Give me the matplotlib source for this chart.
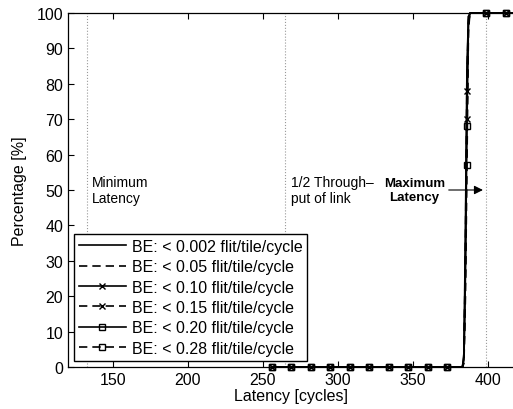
import matplotlib
matplotlib.use('Agg')
from matplotlib import pyplot as plt

plt.rcParams['font.family'] = ['Liberation Sans', 'DejaVu Sans']

# Latency sample points [cycles]
latency = [256, 269, 282, 295, 308, 321, 334, 347, 360, 373,
           383, 384, 385, 386, 387, 388, 399, 412, 417]
# Points that carry a marker (every 13th cycle, like the original plot)
marker_idx = [0, 1, 2, 3, 4, 5, 6, 7, 8, 9, 13, 16, 17]

# Cumulative percentage of packets per BE load
pct_0002 = [0, 0, 0, 0, 0, 0, 0, 0, 0, 0, 0, 4, 40, 85, 99, 100, 100, 100, 100]
pct_005 = [0, 0, 0, 0, 0, 0, 0, 0, 0, 0, 0, 3, 36, 82, 99, 100, 100, 100, 100]
pct_010 = [0, 0, 0, 0, 0, 0, 0, 0, 0, 0, 0, 3, 32, 78, 98, 100, 100, 100, 100]
pct_015 = [0, 0, 0, 0, 0, 0, 0, 0, 0, 0, 0, 2, 28, 70, 97, 100, 100, 100, 100]
pct_020 = [0, 0, 0, 0, 0, 0, 0, 0, 0, 0, 0, 2, 26, 68, 97, 100, 100, 100, 100]
pct_028 = [0, 0, 0, 0, 0, 0, 0, 0, 0, 0, 0, 1, 20, 57, 95, 100, 100, 100, 100]

labels = ['BE: < 0.002 flit/tile/cycle', 'BE: < 0.05 flit/tile/cycle',
          'BE: < 0.10 flit/tile/cycle', 'BE: < 0.15 flit/tile/cycle',
          'BE: < 0.20 flit/tile/cycle', 'BE: < 0.28 flit/tile/cycle']

# reference latencies (dotted guide lines)
min_latency = 133
half_throughput = 265
max_latency = 398.5

fig = plt.figure(figsize=(5.13, 4.10), dpi=100)
ax = fig.add_axes([68/513, 42/410, 445/513, 354/410])

ax.axvline(min_latency, color='0.6', ls=':', lw=0.8, zorder=1)
ax.axvline(half_throughput, color='0.6', ls=':', lw=0.8, zorder=1)
ax.axvline(max_latency, color='0.6', ls=':', lw=0.8, zorder=1)

styles = [('-', None), ('--', None), ('-', 'x'), ('--', 'x'), ('-', 's'), ('--', 's')]
series = [pct_0002, pct_005, pct_010, pct_015, pct_020, pct_028]
for y, (ls, mk), lab in zip(series, styles, labels):
    line, = ax.plot(latency, y, color='k', ls=ls, lw=1.2, marker=mk, markersize=5,
                    markerfacecolor='none', markeredgewidth=1.0,
                    markevery=marker_idx, label=lab, clip_on=False, zorder=3)
    if ls == '--':
        line.set_dashes((5, 3))

ax.set_xlim(120, 416.7)
ax.set_ylim(0, 100)
ax.set_xticks([150, 200, 250, 300, 350, 400])
ax.set_yticks(range(0, 101, 10))
ax.tick_params(direction='in', top=True, right=False, length=4, labelsize=11.5, width=0.8)
ax.spines['right'].set_visible(False)
for s in ['left', 'top', 'bottom']:
    ax.spines[s].set_linewidth(0.9)

ax.set_xlabel('Latency [cycles]', fontsize=11.5, labelpad=1)
ax.set_ylabel('Percentage [%]', fontsize=11.5, labelpad=7)

ax.text(min_latency + 3, 50, 'Minimum\nLatency', fontsize=10, va='center', ha='left')
ax.text(half_throughput + 4, 50, '1/2 Through\u2013\nput of link', fontsize=10,
        va='center', ha='left')
ax.text(351, 50, 'Maximum\nLatency', fontsize=9.5, fontweight='bold', va='center', ha='center')
ax.annotate('', xy=(max_latency, 50), xytext=(372, 50),
            arrowprops=dict(arrowstyle='-|>', color='k', lw=0.8, mutation_scale=13))

leg = ax.legend(loc='lower left', fontsize=11.5, numpoints=1, handlelength=2.9,
                handletextpad=0.4, labelspacing=0.34, borderpad=0.3,
                borderaxespad=0.4, fancybox=False, framealpha=1, edgecolor='k')
leg.get_frame().set_linewidth(1.0)
leg.set_zorder(5)

fig.savefig('out.png', dpi=100)
